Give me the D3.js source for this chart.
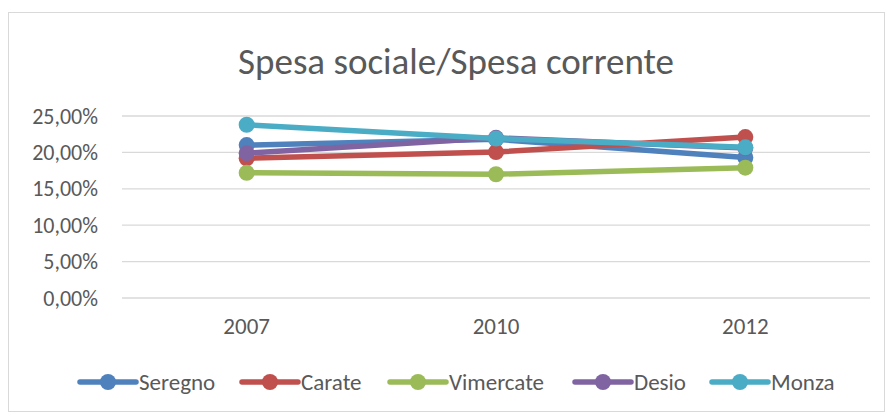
<!DOCTYPE html>
<html><head><meta charset="utf-8">
<script src="https://cdn.jsdelivr.net/npm/d3@7"></script>
<style>body{margin:0;background:#fff}svg{display:block}</style>
</head><body><svg id="c" width="893" height="413"></svg>
<script>
const years = ["2007","2010","2012"];
const seriesNames = ["Seregno","Carate","Vimercate","Desio","Monza"];
const seregno = [0.210,0.218,0.193];
const carate = [0.192,0.2005,0.221];
const vimercate = [0.172,0.170,0.179];
const desio = [0.199,0.220,0.206];
const monza = [0.238,0.219,0.207];
const yTicks = [0,0.05,0.10,0.15,0.20,0.25];
const colors = ["#4f81bd","#c0504d","#9bbb59","#8064a2","#4bacc6"];
const allValues = [seregno,carate,vimercate,desio,monza];

const svg = d3.select("#c");
const font = "Carlito, Calibri, 'Open Sans', 'Liberation Sans', sans-serif";
svg.append("rect").attr("x",8.5).attr("y",12.5).attr("width",876).attr("height",399)
  .attr("fill","#fff").attr("stroke","#d9d9d9");

svg.append("text").attr("x",456).attr("y",74).attr("text-anchor","middle")
  .attr("font-family",font).attr("font-size",37).attr("fill","#595959")
  .text("Spesa sociale/Spesa corrente");

const x = d3.scaleBand().domain(years).range([122,870]);
const y = d3.scaleLinear().domain([0,0.25]).range([298,116]);
const fmt = v => d3.format(".2f")(v*100).replace(".",",")+"%";

const grid = svg.append("g");
grid.selectAll("line").data(yTicks).join("line")
  .attr("x1",122).attr("x2",870).attr("y1",d=>y(d)).attr("y2",d=>y(d))
  .attr("stroke","#d9d9d9").attr("stroke-width",1.3);

const yAxis = svg.append("g").attr("transform","translate(122,0)")
  .call(d3.axisLeft(y).tickValues(yTicks).tickFormat(fmt).tickSize(0).tickPadding(24));
yAxis.select(".domain").remove();
yAxis.selectAll("text").attr("font-family",font).attr("font-size",22).attr("fill","#595959");

const xAxis = svg.append("g").attr("transform","translate(0,298)")
  .call(d3.axisBottom(x).tickSize(0).tickPadding(20));
xAxis.select(".domain").remove();
xAxis.selectAll("text").attr("font-family",font).attr("font-size",23).attr("fill","#595959");

const line = d3.line().x((d,i)=>x(years[i])+x.bandwidth()/2).y(d=>y(d));
allValues.forEach((vals,k)=>{
  const g = svg.append("g");
  g.append("path").attr("d",line(vals)).attr("fill","none").attr("stroke",colors[k])
    .attr("stroke-width",5.5).attr("stroke-linejoin","round").attr("stroke-linecap","round");
  g.selectAll("circle").data(vals).join("circle")
    .attr("cx",(d,i)=>x(years[i])+x.bandwidth()/2).attr("cy",d=>y(d)).attr("r",8)
    .attr("fill",colors[k]);
});

const legX = [80,242,390,575,712];
const leg = svg.append("g");
seriesNames.forEach((n,k)=>{
  const g = leg.append("g").attr("transform",`translate(${legX[k]},382)`);
  g.append("line").attr("x1",0).attr("x2",56).attr("stroke",colors[k]).attr("stroke-width",5.5).attr("stroke-linecap","round");
  g.append("circle").attr("cx",28).attr("r",8).attr("fill",colors[k]);
  g.append("text").attr("x",59).attr("y",8).attr("font-family",font).attr("font-size",23)
    .attr("fill","#595959").text(n);
});
</script></body></html>
